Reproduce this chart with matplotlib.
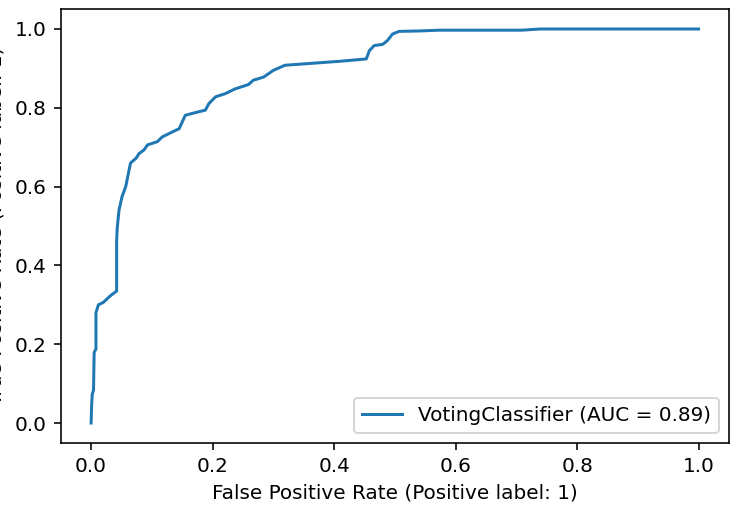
import matplotlib
matplotlib.use("Agg")
import matplotlib.pyplot as plt

# ROC curve points of the voting ensemble
fpr = [0.000, 0.001, 0.002, 0.004, 0.005, 0.008, 0.008, 0.012, 0.020, 0.031,
       0.042, 0.042, 0.043, 0.046, 0.051, 0.057, 0.063, 0.065, 0.074, 0.079,
       0.087, 0.093, 0.109, 0.117, 0.134, 0.145, 0.150, 0.155, 0.172, 0.188,
       0.194, 0.205, 0.221, 0.237, 0.259, 0.267, 0.284, 0.300, 0.319, 0.355,
       0.409, 0.453, 0.458, 0.466, 0.480, 0.488, 0.496, 0.507, 0.540, 0.573,
       0.709, 0.739, 1.000]
tpr = [0.000, 0.049, 0.074, 0.083, 0.179, 0.188, 0.280, 0.300, 0.306, 0.322,
       0.335, 0.461, 0.495, 0.541, 0.575, 0.600, 0.646, 0.660, 0.672, 0.684,
       0.693, 0.706, 0.714, 0.726, 0.739, 0.747, 0.764, 0.781, 0.788, 0.794,
       0.811, 0.828, 0.836, 0.848, 0.859, 0.870, 0.878, 0.895, 0.908, 0.912,
       0.918, 0.924, 0.945, 0.958, 0.961, 0.971, 0.987, 0.994, 0.995, 0.997,
       0.997, 1.000, 1.000]
auc = 0.89
name = "VotingClassifier"

dpi = 144
fig = plt.figure(figsize=(737 / dpi, 508 / dpi), dpi=dpi)
ax = fig.add_axes([0.0824, 0.1285, 0.9067, 0.8532])

ax.plot(fpr, tpr, label=f"{name} (AUC = {auc:.2f})")
ax.set_xlabel("False Positive Rate (Positive label: 1)")
ax.set_ylabel("True Positive Rate (Positive label: 1)")
# label sits mostly past the left edge of the figure
ax.yaxis.set_label_coords(-0.083, 0.5)
ax.legend(loc="lower right")

fig.savefig("out.png", dpi=dpi)
